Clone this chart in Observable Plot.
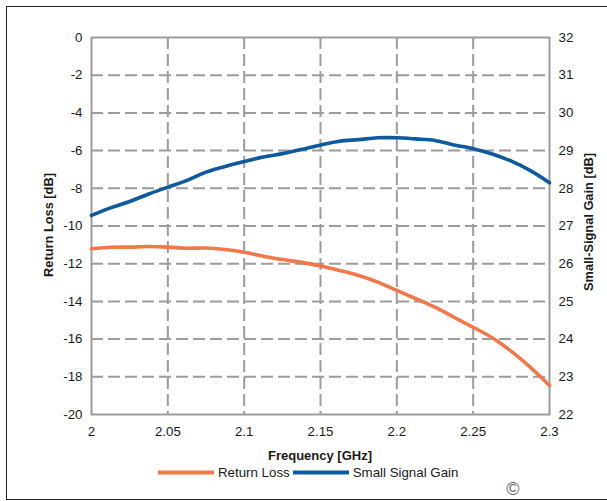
<!DOCTYPE html>
<html>
<head>
<meta charset="utf-8">
<script src="https://cdn.jsdelivr.net/npm/d3@7"></script>
<script src="https://cdn.jsdelivr.net/npm/@observablehq/plot@0.6"></script>
<style>
html, body { margin: 0; padding: 0; background: #fff; overflow: hidden; }
#wrap { position: relative; width: 607px; height: 501px; overflow: hidden;
  font-family: "Liberation Sans", Arial, sans-serif; color: #1a1a1a; }
#frame { position: absolute; left: 6px; top: 6px; width: 700px; height: 494px;
  border: 1.5px solid #222; box-sizing: border-box; }
#chart { position: absolute; left: 0; top: 0; }
.ytitle { position: absolute; font-weight: bold; font-size: 12.8px; white-space: nowrap;
  transform: translate(-50%, -50%) rotate(-90deg); }
#xtitle { position: absolute; left: 320px; top: 455px; transform: translate(-50%, -50%);
  font-weight: bold; font-size: 13px; white-space: nowrap; }
#legend { position: absolute; left: 158px; top: 472px; transform: translateY(-50%);
  display: flex; align-items: center; font-size: 13.3px; white-space: nowrap; }
.sw { display: inline-block; width: 56px; height: 4px; margin-right: 4px; }
#copy { position: absolute; left: 513px; top: 489px; transform: translate(-50%, -50%);
  font-size: 18px; color: #666; }
</style>
</head>
<body>
<div id="wrap">
  <div id="frame"></div>
  <div id="chart"></div>
  <div class="ytitle" id="ltitle" style="left:48px; top:225px;"></div>
  <div class="ytitle" id="rtitle" style="left:588px; top:222px;"></div>
  <div id="xtitle"></div>
  <div id="legend"></div>
  <div id="copy">©</div>
</div>
<script>
// ---- data ----
const freq = [2.0, 2.0125, 2.025, 2.0375, 2.05, 2.0625, 2.075, 2.0875, 2.1, 2.1125, 2.125, 2.1375,
  2.15, 2.1625, 2.175, 2.1875, 2.2, 2.2125, 2.225, 2.2375, 2.25, 2.2625, 2.275, 2.2875, 2.3];
const returnLoss = [-11.21, -11.13, -11.12, -11.09, -11.12, -11.18, -11.17, -11.25, -11.39, -11.60,
  -11.78, -11.93, -12.12, -12.36, -12.63, -12.98, -13.42, -13.86, -14.31, -14.84, -15.37, -15.93,
  -16.65, -17.50, -18.46];
const smallSignalGain = [27.28, 27.48, 27.65, 27.85, 28.03, 28.21, 28.43, 28.58, 28.71, 28.83,
  28.92, 29.03, 29.15, 29.25, 29.29, 29.34, 29.34, 29.31, 29.27, 29.15, 29.05, 28.91, 28.72,
  28.47, 28.15];
const xTicks = [2, 2.05, 2.1, 2.15, 2.2, 2.25, 2.3];
const leftTicks = [-20, -18, -16, -14, -12, -10, -8, -6, -4, -2, 0];
const rightTicks = [22, 23, 24, 25, 26, 27, 28, 29, 30, 31, 32];
const seriesNames = ["Return Loss", "Small Signal Gain"];
const seriesColors = ["#f0784a", "#0f5a9e"];
const xTitle = "Frequency [GHz]";
const leftTitle = "Return Loss [dB]";
const rightTitle = "Small-Signal Gain [dB]";

// map right-axis (gain) values onto the left scale domain
const gMin = rightTicks[0], gMax = rightTicks[rightTicks.length - 1];
const lMin = leftTicks[0], lMax = leftTicks[leftTicks.length - 1];
const g2l = g => lMin + (g - gMin) * (lMax - lMin) / (gMax - gMin);

const data = freq.map((f, i) => ({f, rl: returnLoss[i], g: smallSignalGain[i]}));
const gridStyle = {stroke: "#9c9c9c", strokeOpacity: 1, strokeWidth: 2, strokeDasharray: "12,5"};

const chart = Plot.plot({
  width: 607, height: 501,
  marginLeft: 91, marginRight: 58, marginTop: 37, marginBottom: 87,
  style: {fontFamily: '"Liberation Sans", Arial, sans-serif', fontSize: "13.3px", color: "#1a1a1a", background: "transparent"},
  x: {domain: [xTicks[0], xTicks[xTicks.length - 1]]},
  y: {domain: [lMin, lMax]},
  marks: [
    Plot.gridX(xTicks.slice(1, -1), gridStyle),
    Plot.gridY(leftTicks.slice(1, -1), gridStyle),
    Plot.frame({stroke: "#9c9c9c", strokeWidth: 2}),
    Plot.axisX(xTicks, {tickSize: 0, tickPadding: 12, label: null, tickFormat: d => String(d)}),
    Plot.axisY(leftTicks, {anchor: "left", tickSize: 0, tickPadding: 9, label: null, tickFormat: d => String(d)}),
    Plot.axisY(rightTicks.map(g2l), {anchor: "right", tickSize: 0, tickPadding: 9, label: null,
      tickFormat: (d, i) => String(rightTicks[i])}),
    Plot.line(data, {x: "f", y: "rl", stroke: seriesColors[0], strokeWidth: 3.6, curve: "catmull-rom"}),
    Plot.line(data, {x: "f", y: d => g2l(d.g), stroke: seriesColors[1], strokeWidth: 3.6, curve: "catmull-rom"})
  ]
});
document.getElementById("chart").appendChild(chart);
document.getElementById("ltitle").textContent = leftTitle;
document.getElementById("rtitle").textContent = rightTitle;
document.getElementById("xtitle").textContent = xTitle;
const legend = document.getElementById("legend");
seriesNames.forEach((name, i) => {
  const sw = document.createElement("span");
  sw.className = "sw";
  sw.style.background = seriesColors[i];
  legend.appendChild(sw);
  const t = document.createElement("span");
  t.textContent = name;
  t.style.marginRight = i === 0 ? "3px" : "0";
  legend.appendChild(t);
});
</script>
</body>
</html>
